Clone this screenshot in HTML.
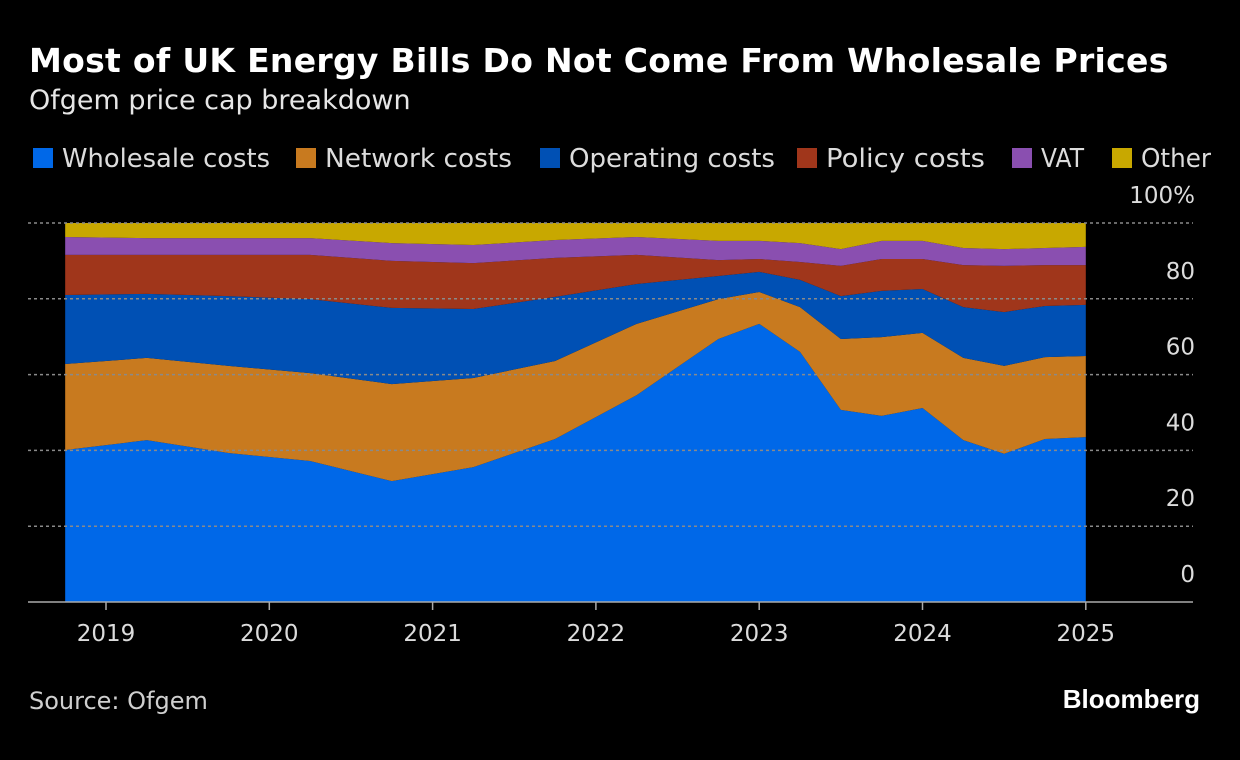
<!DOCTYPE html>
<html><head><meta charset="utf-8"><style>
body{margin:0;background:#000;width:1240px;height:760px;overflow:hidden;font-family:"DejaVu Sans","Liberation Sans",sans-serif;color:#fff}
#t{position:absolute;left:29px;top:41px;font-size:33px;font-weight:bold;white-space:nowrap;letter-spacing:0.3px}
#s{position:absolute;left:29px;top:85px;font-size:27px;color:#e6e6e6;white-space:nowrap}
#src{position:absolute;left:29px;top:687px;font-size:24px;color:#cfcfcf}
#bb{position:absolute;right:40px;top:684px;font-size:26px;font-weight:bold;font-family:"Liberation Sans",sans-serif}
</style></head><body>
<div id="t">Most of UK Energy Bills Do Not Come From Wholesale Prices</div>
<div id="s">Ofgem price cap breakdown</div>
<svg id="c" width="1240" height="760" style="position:absolute;left:0;top:0"></svg>
<div id="src">Source: Ofgem</div>
<div id="bb">Bloomberg</div>
<script>
const dates=[2018.75,2019.25,2019.75,2020.25,2020.75,2021.25,2021.75,2022.25,2022.75,2023.0,2023.25,2023.5,2023.75,2024.0,2024.25,2024.5,2024.75,2025.0];
const wholesale=[40.1,42.7,39.3,37.2,31.9,35.6,43.0,54.6,69.4,73.4,66.0,50.7,49.1,51.2,42.7,39.1,43.0,43.5];
const network=[22.7,21.7,23.0,23.2,25.6,23.5,20.6,18.8,10.5,8.4,11.8,18.7,20.8,19.8,21.7,23.2,21.6,21.4];
const operating=[18.2,16.9,18.4,19.5,20.1,18.2,16.9,10.5,6.1,5.3,7.2,11.3,12.2,11.6,13.4,14.2,13.5,13.5];
const policy=[10.6,10.3,10.9,11.7,12.4,12.1,10.3,7.7,4.2,3.4,4.7,8.0,8.4,7.9,11.1,12.2,10.8,10.5];
const vat=[4.7,4.4,4.4,4.4,4.7,4.8,4.7,4.7,5.1,4.8,5.0,4.4,4.8,4.8,4.5,4.4,4.5,4.8];
const other=[3.7,4.0,4.0,4.0,5.3,5.8,4.5,3.7,4.7,4.7,5.3,6.9,4.7,4.7,6.6,6.9,6.6,6.3];
const seriesNames=["Wholesale costs","Network costs","Operating costs","Policy costs","VAT","Other"];
const colors=["#0068e8","#c87a1f","#0050b4","#a0361b","#8a4fb0","#c8a800"];
const legendLeft=[33,296,540,797,1012,1112];
const legendTextW=[208,187,206,159,43,70];
const yTicks=[0,20,40,60,80,100];
const xTicks=[2019,2020,2021,2022,2023,2024,2025];
const NS="http://www.w3.org/2000/svg";
const svg=document.getElementById('c');
const x=v=>106+(v-2019)*163.3;
const y=v=>602-v*3.79;
const all=[wholesale,network,operating,policy,vat,other];
let base=dates.map(()=>0);
all.forEach((s,k)=>{
  const top=base.map((b,i)=>b+s[i]);
  let d="M"+dates.map((t,i)=>x(t)+","+y(top[i])).join("L");
  for(let i=dates.length-1;i>=0;i--)d+="L"+x(dates[i])+","+y(base[i]);
  const p=document.createElementNS(NS,'path');
  p.setAttribute('d',d+"Z");p.setAttribute('fill',colors[k]);
  
  
  svg.appendChild(p);base=top;
  const g=document.createElementNS(NS,'g');
  
  
  const r=document.createElementNS(NS,'rect');
  r.setAttribute('x',legendLeft[k]);r.setAttribute('y',148);r.setAttribute('width',20);r.setAttribute('height',20);r.setAttribute('fill',colors[k]);
  g.appendChild(r);
  const t=document.createElementNS(NS,'text');
  t.setAttribute('x',legendLeft[k]+29);t.setAttribute('y',167);t.setAttribute('font-size','26');t.setAttribute('fill','#dcdcdc');
  t.setAttribute('textLength',legendTextW[k]);t.setAttribute('lengthAdjust','spacingAndGlyphs');
  t.textContent=seriesNames[k];
  g.appendChild(t);
  svg.appendChild(g);
});
yTicks.forEach(v=>{
  if(v>0){const l=document.createElementNS(NS,'line');
  l.setAttribute('x1',28);l.setAttribute('x2',1193);l.setAttribute('y1',y(v));l.setAttribute('y2',y(v));
  l.setAttribute('stroke','#8a8a8a');l.setAttribute('stroke-dasharray','3,3');l.setAttribute('stroke-width','1.5');
  
  
  svg.appendChild(l);}
  const t=document.createElementNS(NS,'text');
  t.setAttribute('x',1195);t.setAttribute('y',y(v)-20);t.setAttribute('text-anchor','end');
  t.setAttribute('fill','#dcdcdc');t.setAttribute('font-size','23');
  t.textContent=v===100?'100%':v;
  
  
  svg.appendChild(t);
});
const ax=document.createElementNS(NS,'line');
ax.setAttribute('x1',28);ax.setAttribute('x2',1193);ax.setAttribute('y1',602);ax.setAttribute('y2',602);
ax.setAttribute('stroke','#aaa');ax.setAttribute('stroke-width','1.5');


svg.appendChild(ax);
xTicks.forEach(v=>{
  const l=document.createElementNS(NS,'line');
  l.setAttribute('x1',x(v));l.setAttribute('x2',x(v));l.setAttribute('y1',602);l.setAttribute('y2',610);
  l.setAttribute('stroke','#aaa');l.setAttribute('stroke-width','1.5');
  
  
  svg.appendChild(l);
  const t=document.createElementNS(NS,'text');
  t.setAttribute('x',x(v));t.setAttribute('y',641);t.setAttribute('text-anchor','middle');
  t.setAttribute('fill','#dcdcdc');t.setAttribute('font-size','23');t.textContent=v;
  
  
  svg.appendChild(t);
});
</script>
</body></html>
